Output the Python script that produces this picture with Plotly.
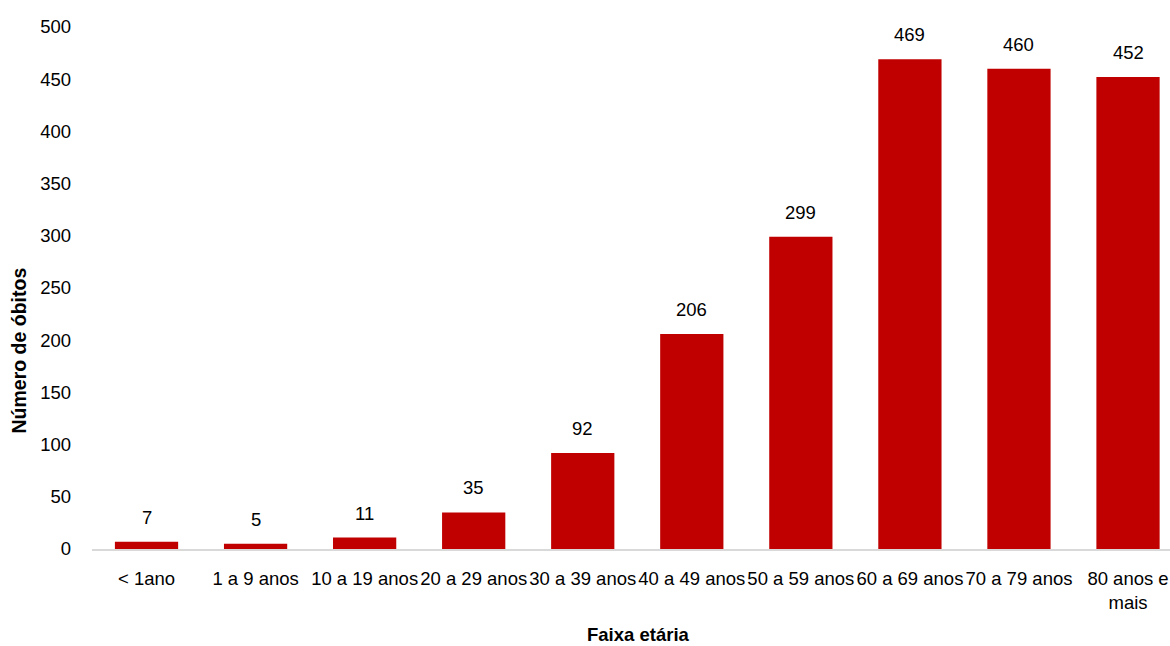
import plotly.graph_objects as go

categories = ["< 1ano", "1 a 9 anos", "10 a 19 anos", "20 a 29 anos", "30 a 39 anos",
              "40 a 49 anos", "50 a 59 anos", "60 a 69 anos", "70 a 79 anos", "80 anos e<br>mais"]
deaths = [7, 5, 11, 35, 92, 206, 299, 469, 460, 452]
y_ticks = [0, 50, 100, 150, 200, 250, 300, 350, 400, 450, 500]

FONT = "Liberation Sans"
FS = 18.5
BLACK = "#000000"

fig = go.Figure(go.Bar(
    x=categories, y=deaths,
    marker=dict(color="#C00000", line=dict(width=0)),
    hoverinfo="x+y",
))

for c, v in zip(categories, deaths):
    fig.add_annotation(x=c, y=v, text=str(v), showarrow=False,
                       yanchor="bottom", yshift=12,
                       font=dict(family=FONT, size=FS, color=BLACK))

# axis titles (placed as annotations to match the original layout)
fig.add_annotation(text="<b>Faixa etária</b>", xref="paper", yref="paper",
                   x=0.5065, y=0, yanchor="middle", yshift=-85, showarrow=False,
                   font=dict(family=FONT, size=FS, color=BLACK))
fig.add_annotation(text="<b>Número de óbitos</b>", xref="paper", yref="paper",
                   x=0, y=0, xanchor="center", yanchor="middle",
                   xshift=-73.5, yshift=-(351 - 549), textangle=-90, showarrow=False,
                   font=dict(family=FONT, size=19.5, color=BLACK))

fig.update_layout(
    width=1170, height=646,
    margin=dict(l=92, r=0, t=27, b=97, autoexpand=False),
    plot_bgcolor="white", paper_bgcolor="white",
    bargap=0.42,
    showlegend=False,
    font=dict(family=FONT, size=FS, color=BLACK),
)
fig.update_xaxes(
    type="category", tickangle=0, range=[-0.5, 9.385],
    showline=True, linecolor="#D9D9D9", linewidth=1.5,
    ticks="", showgrid=False, automargin=False,
    ticklabelstandoff=12,
    tickfont=dict(family=FONT, size=FS, color=BLACK),
)
fig.update_yaxes(
    range=[0, 500], tickvals=y_ticks, showgrid=False, zeroline=False,
    showline=False, ticks="", automargin=False,
    ticklabelstandoff=20,
    tickfont=dict(family=FONT, size=FS, color=BLACK),
)

fig.write_html("out.html",
               config={"displayModeBar": False},
               post_script="document.body.style.margin='0';document.body.style.overflow='hidden';")
